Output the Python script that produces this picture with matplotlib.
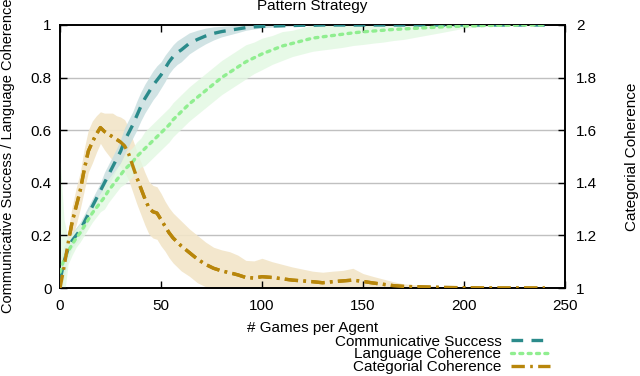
import numpy as np
import matplotlib
matplotlib.use("Agg")
import matplotlib.pyplot as plt
from matplotlib.lines import Line2D

plt.rcParams['font.family'] = ['Liberation Sans', 'DejaVu Sans']

games = [0, 2, 4, 6, 8, 10, 12, 14, 16, 18, 20, 22, 24, 26, 28, 30, 32, 34, 36, 38, 40,
         42, 44, 46, 48, 50, 52, 54, 56, 58, 60, 64, 68, 72, 76, 80, 84, 88, 92, 96, 100,
         105, 110, 115, 120, 125, 130, 135, 140, 145, 150, 155, 160, 165, 170,
         180, 190, 200, 210, 220, 230, 240]

comm_success = [0.03, 0.10, 0.15, 0.18, 0.20, 0.22, 0.25, 0.28, 0.31, 0.34, 0.37,
                0.40, 0.43, 0.46, 0.49, 0.52, 0.56, 0.59, 0.62, 0.655, 0.69,
                0.72, 0.745, 0.77, 0.79, 0.81, 0.835, 0.86, 0.88, 0.895, 0.905,
                0.93, 0.945, 0.958, 0.968, 0.975, 0.98, 0.985, 0.99, 0.993, 0.995,
                0.996, 0.997, 0.998, 0.999, 0.999, 1.0, 1.0, 1.0, 1.0, 1.0, 1.0, 1.0, 1.0, 1.0,
                1.0, 1.0, 1.0, 1.0, 1.0, 1.0, 1.0]
comm_success_sd = [0.08, 0.06, 0.04, 0.03, 0.03, 0.03, 0.03, 0.03, 0.03, 0.03, 0.03,
                   0.04, 0.04, 0.04, 0.04, 0.045, 0.05, 0.05, 0.05, 0.055, 0.055,
                   0.055, 0.055, 0.055, 0.055, 0.05, 0.05, 0.045, 0.045, 0.045, 0.045,
                   0.04, 0.035, 0.03, 0.025, 0.02, 0.017, 0.014, 0.01, 0.008, 0.006,
                   0.004, 0.003, 0.002, 0.001, 0.001, 0.0, 0.0, 0.0, 0.0, 0.0, 0.0, 0.0, 0.0, 0.0,
                   0.0, 0.0, 0.0, 0.0, 0.0, 0.0, 0.0]

lang_coherence = [0.06, 0.11, 0.14, 0.165, 0.19, 0.21, 0.235, 0.26, 0.285, 0.305, 0.325,
                  0.345, 0.37, 0.39, 0.41, 0.43, 0.45, 0.465, 0.48, 0.50, 0.515,
                  0.53, 0.545, 0.56, 0.575, 0.59, 0.605, 0.62, 0.64, 0.655, 0.67,
                  0.70, 0.725, 0.75, 0.775, 0.80, 0.82, 0.84, 0.86, 0.875, 0.89,
                  0.905, 0.92, 0.93, 0.94, 0.95, 0.955, 0.96, 0.965, 0.97, 0.974, 0.977, 0.98, 0.983, 0.985,
                  0.989, 0.993, 0.996, 0.998, 0.999, 1.0, 1.0]
lang_coherence_sd = [0.44, 0.15, 0.05, 0.04, 0.035, 0.035, 0.035, 0.035, 0.035, 0.035, 0.035,
                     0.045, 0.045, 0.045, 0.045, 0.045, 0.055, 0.055, 0.055, 0.055, 0.055,
                     0.065, 0.065, 0.065, 0.065, 0.065, 0.065, 0.065, 0.065, 0.065, 0.065,
                     0.065, 0.065, 0.065, 0.065, 0.065, 0.065, 0.065, 0.065, 0.06, 0.06,
                     0.055, 0.055, 0.05, 0.05, 0.05, 0.05, 0.05, 0.05, 0.048, 0.048, 0.046, 0.045, 0.042, 0.04,
                     0.03, 0.02, 0.008, 0.004, 0.002, 0.0, 0.0]

cat_coherence = [1.0, 1.08, 1.17, 1.25, 1.31, 1.37, 1.45, 1.52, 1.555, 1.585, 1.61,
                 1.595, 1.585, 1.575, 1.565, 1.555, 1.54, 1.51, 1.465, 1.42, 1.38,
                 1.34, 1.305, 1.29, 1.285, 1.26, 1.235, 1.21, 1.19, 1.175, 1.16,
                 1.135, 1.11, 1.09, 1.075, 1.065, 1.058, 1.05, 1.04, 1.038, 1.043,
                 1.04, 1.035, 1.03, 1.027, 1.024, 1.02, 1.024, 1.027, 1.03, 1.025, 1.019, 1.014, 1.009, 1.006,
                 1.004, 1.002, 1.001, 1.0, 1.0, 1.0, 1.0]
cat_coherence_sd = [0.02, 0.04, 0.05, 0.06, 0.07, 0.07, 0.08, 0.08, 0.08, 0.07, 0.06,
                    0.07, 0.08, 0.09, 0.09, 0.095, 0.1, 0.1, 0.1, 0.1, 0.1,
                    0.1, 0.1, 0.1, 0.1, 0.1, 0.095, 0.095, 0.095, 0.095, 0.095,
                    0.09, 0.09, 0.085, 0.08, 0.08, 0.08, 0.075, 0.065, 0.065, 0.07,
                    0.06, 0.055, 0.05, 0.045, 0.04, 0.04, 0.04, 0.04, 0.045, 0.03, 0.025, 0.02, 0.015, 0.01,
                    0.006, 0.003, 0.0, 0.0, 0.0, 0.0, 0.0]

x = np.array(games)
cs, css = np.array(comm_success), np.array(comm_success_sd)
lc, lcs = np.array(lang_coherence), np.array(lang_coherence_sd)
cc, ccs = np.array(cat_coherence), np.array(cat_coherence_sd)

c_teal, c_green, c_gold = '#2b8b8b', '#90ee90', '#b8860b'
f_teal, f_green, f_gold = '#c9dfe0', '#e2f8e2', '#f2e5c8'

fig = plt.figure(figsize=(6.4, 3.76), dpi=100)
ax = fig.add_axes([60/640, 1-288/376, 505/640, 263/376])
ax2 = ax.twinx()

ax.set_zorder(2)
ax.patch.set_visible(False)

ax2.fill_between(x, cc - ccs, cc + ccs, color=f_gold, lw=0, alpha=0.9, zorder=1)
ax.fill_between(x, cs - css, np.minimum(cs + css, 1.0), color=f_teal, lw=0, alpha=0.85, zorder=1)
ax.fill_between(x, lc - lcs, np.minimum(lc + lcs, 1.0), color=f_green, lw=0, alpha=0.8, zorder=1)

ax.plot(x, cs, color=c_teal, lw=2.4, dashes=(3.5, 2.5), zorder=3)
ax.plot(x, lc, color=c_green, lw=2.4, dashes=(0.9, 1.6), dash_capstyle='round', zorder=3)
ax2.plot(x, cc, color=c_gold, lw=2.4, dashes=(4, 1.6, 0.8, 1.6), zorder=3)

# gold line also drawn on the front axes for correct layering
ax.plot(x, cc - 1.0, color=c_gold, lw=2.4, dashes=(4, 1.6, 0.8, 1.6), zorder=4)

ax.set_xlim(0, 250)
ax.set_ylim(0, 1)
ax2.set_ylim(1, 2)
ax.set_xticks([0, 50, 100, 150, 200, 250])
ax.set_yticks([0, 0.2, 0.4, 0.6, 0.8, 1])
ax.set_yticklabels(['0', '0.2', '0.4', '0.6', '0.8', '1'])
ax2.set_yticks([1, 1.2, 1.4, 1.6, 1.8, 2])
ax2.set_yticklabels(['1', '1.2', '1.4', '1.6', '1.8', '2'])

for yv in [0.2, 0.4, 0.6, 0.8]:
    ax2.axhline(1 + yv, color='#c0c0c0', lw=1.0, zorder=0)

ax.tick_params(axis='both', direction='in', length=5, width=1, labelsize=11, top=True, pad=6)
ax.tick_params(axis='x', pad=8)
ax2.tick_params(axis='y', direction='in', length=5, width=1, labelsize=11, pad=8)
for a in (ax, ax2):
    for s in a.spines.values():
        s.set_linewidth(1.2)

ax.set_xlabel('# Games per Agent', fontsize=11, labelpad=6)
fig.text(8/640, 1-156/376, 'Communicative Success / Language Coherence', rotation=90,
         ha='center', va='center', fontsize=10.5)
fig.text(632/640, 1-157/376, 'Categorial Coherence', rotation=90,
         ha='center', va='center', fontsize=11)
fig.text(312/640, 1-6/376, 'Pattern Strategy', ha='center', va='center', fontsize=11)

handles = [Line2D([], [], color=c_teal, lw=2.4, dashes=(3.5, 2.5)),
           Line2D([], [], color=c_green, lw=2.4, dashes=(0.9, 1.6), dash_capstyle='round'),
           Line2D([], [], color=c_gold, lw=2.4, dashes=(4, 1.6, 0.8, 1.6))]
labels = ['Communicative Success', 'Language Coherence', 'Categorial Coherence']
leg = fig.legend(handles, labels, loc='upper right', bbox_to_anchor=(558/640, 1-327/376),
                 frameon=False, fontsize=11, markerfirst=False, handlelength=2.6,
                 handletextpad=0.6, labelspacing=-0.08, borderpad=0)
for t in leg.get_texts():
    t.set_ha('right')

fig.savefig('out.png', dpi=100)
